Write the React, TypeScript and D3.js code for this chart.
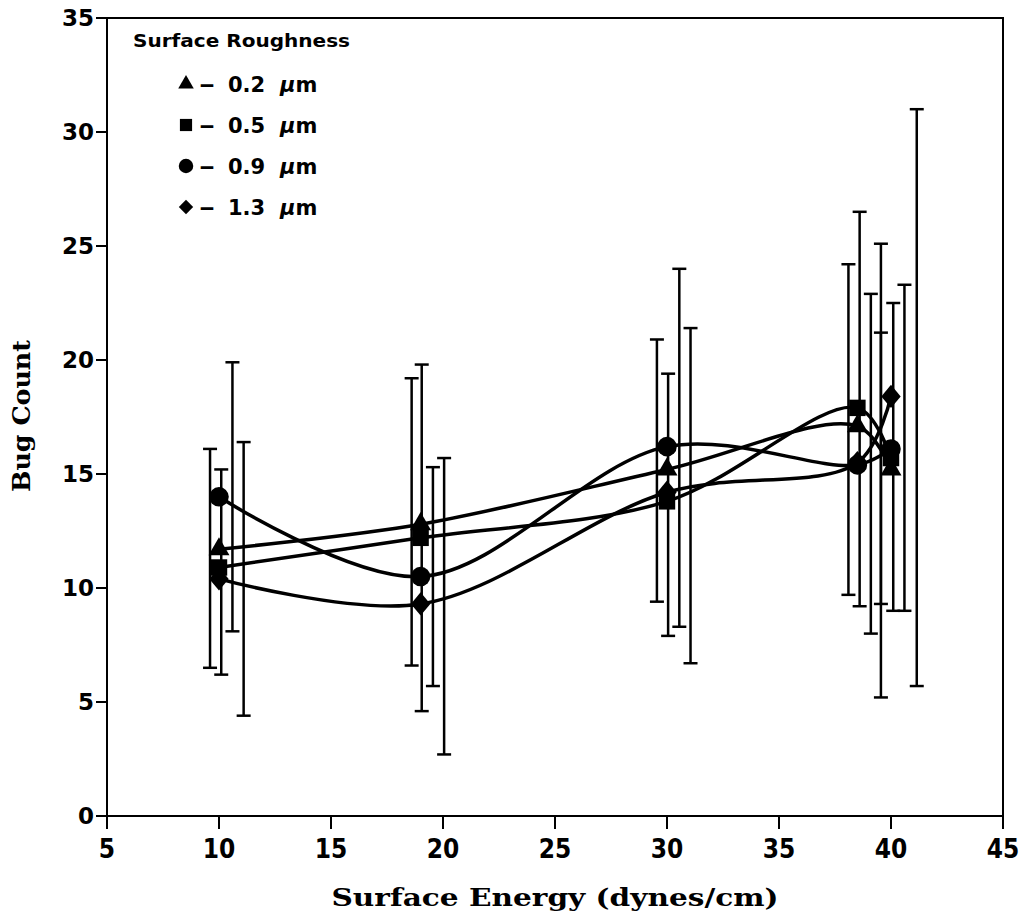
import React from "react";
import * as d3 from "d3";

// values
const seriesNames = ["0.2", "0.5", "0.9", "1.3"];
const seriesShapes = ["triangle", "square", "circle", "diamond"];
const energy = [10, 19, 30, 38.5, 40];

const triangleY = [11.7, 12.8, 15.2, 17.1, 15.2];
const squareY = [10.9, 12.2, 13.8, 17.9, 15.7];
const circleY = [14.0, 10.5, 16.2, 15.4, 16.1];
const diamondY = [10.4, 9.3, 14.2, 15.5, 18.4];

// error bars are drawn slightly offset from the points
const errX = [
  [9.6, 18.6, 29.55, 38.1, 39.55],
  [10.1, 19.05, 30.05, 38.6, 40.1],
  [10.6, 19.55, 30.55, 39.1, 40.6],
  [11.1, 20.05, 31.05, 39.55, 41.15],
];
const errHi = [
  [16.1, 19.2, 20.9, 24.2, 21.2],
  [15.2, 19.8, 19.4, 26.5, 22.5],
  [19.9, 15.3, 24.0, 22.9, 23.3],
  [16.4, 15.7, 21.4, 25.1, 31.0],
];
const errLo = [
  [6.5, 6.6, 9.4, 9.7, 9.3],
  [6.2, 4.6, 7.9, 9.2, 9.0],
  [8.1, 5.7, 8.3, 8.0, 9.0],
  [4.4, 2.7, 6.7, 5.2, 5.7],
];

const xTicks = [5, 10, 15, 20, 25, 30, 35, 40, 45];
const yTicks = [0, 5, 10, 15, 20, 25, 30, 35];

const allY = [triangleY, squareY, circleY, diamondY];

const W = 1024;
const H = 918;
const left = 107;
const right = 1003;
const top = 18;
const bottom = 816;

const symbolFor = (shape: string, big: boolean) => {
  const k = big ? 1 : 0.55;
  if (shape === "triangle") return d3.symbol(d3.symbolTriangle, 190 * k)();
  if (shape === "square") return d3.symbol(d3.symbolSquare, 270 * k)();
  if (shape === "circle") return d3.symbol(d3.symbolCircle, 300 * k)();
  return d3.symbol(d3.symbolDiamond2, 240 * k)();
};

export default function App() {
  const x = d3.scaleLinear().domain([5, 45]).range([left, right]);
  const y = d3.scaleLinear().domain([0, 35]).range([bottom, top]);

  // smooth curve through the means
  const line = d3
    .line<number>()
    .x((_, i) => x(energy[i]))
    .y((d) => y(d))
    .curve(d3.curveCatmullRom.alpha(0.5));

  const tickFont = "DejaVu Sans, sans-serif";
  const narrowFont = "'Liberation Sans Narrow', 'DejaVu Sans Condensed', 'Liberation Sans', sans-serif";
  const titleFont = "'DejaVu Serif', 'Liberation Serif', serif";

  return (
    <svg width={W} height={H} style={{ position: "absolute", left: 0, top: 0, background: "#fff" }}>
      {/* frame */}
      <rect x={left} y={top} width={right - left} height={bottom - top} fill="none" stroke="#000" strokeWidth={2} />

      {/* y ticks */}
      {yTicks.map((t) => (
        <g key={"y" + t}>
          <line x1={left - 11} x2={left} y1={y(t)} y2={y(t)} stroke="#000" strokeWidth={2} />
          <text x={left - 13} y={y(t)} dy="0.36em" textAnchor="end" fontFamily={tickFont} fontWeight="bold" fontSize={23}>
            {t}
          </text>
        </g>
      ))}

      {/* x ticks */}
      {xTicks.map((t) => (
        <g key={"x" + t}>
          <line x1={x(t)} x2={x(t)} y1={bottom} y2={bottom + 13} stroke="#000" strokeWidth={2} />
          <text x={x(t)} y={bottom + 42} textAnchor="middle" fontFamily={narrowFont} fontWeight="bold" fontSize={26}>
            {t}
          </text>
        </g>
      ))}

      <text x={555} y={906} textAnchor="middle" fontFamily={titleFont} fontWeight="bold" fontSize={24} textLength={447} lengthAdjust="spacingAndGlyphs">
        Surface Energy (dynes/cm)
      </text>
      <text transform={`translate(30, 416) rotate(-90)`} textAnchor="middle" fontFamily={titleFont} fontWeight="bold" fontSize={24} textLength={152} lengthAdjust="spacingAndGlyphs">
        Bug Count
      </text>

      {/* error bars */}
      {errX.map((row, s) =>
        row.map((ex, i) => (
          <g key={`e${s}-${i}`} stroke="#000" strokeWidth={2.5}>
            <line x1={x(ex)} x2={x(ex)} y1={y(errLo[s][i])} y2={y(errHi[s][i])} />
            <line x1={x(ex) - 7} x2={x(ex) + 7} y1={y(errLo[s][i])} y2={y(errLo[s][i])} />
            <line x1={x(ex) - 7} x2={x(ex) + 7} y1={y(errHi[s][i])} y2={y(errHi[s][i])} />
          </g>
        ))
      )}

      {/* curves */}
      {allY.map((vals, s) => (
        <path key={"c" + s} d={line(vals) || ""} fill="none" stroke="#000" strokeWidth={3.5} />
      ))}

      {/* markers */}
      {allY.map((vals, s) =>
        vals.map((v, i) => (
          <path
            key={`m${s}-${i}`}
            d={symbolFor(seriesShapes[s], true) || ""}
            transform={`translate(${x(energy[i])},${y(v)})${seriesShapes[s] === "diamond" ? " scale(1,1.2)" : ""}`}
            fill="#000"
          />
        ))
      )}

      {/* legend */}
      <text x={133} y={47} fontFamily={tickFont} fontWeight="bold" fontSize={18} textLength={217} lengthAdjust="spacingAndGlyphs">
        Surface Roughness
      </text>
      {seriesNames.map((n, i) => (
        <g key={"l" + n} transform={`translate(186, ${84 + i * 41})`} fontFamily={tickFont} fontWeight="bold" fontSize={21}>
          <path d={symbolFor(seriesShapes[i], false) || ""} fill="#000" />
          <text x={13} y={0} dy="0.36em" textLength={16} lengthAdjust="spacingAndGlyphs">{"\u2013"}</text>
          <text x={42} y={0} dy="0.36em">{n}</text>
          <text x={94} y={0} dy="0.36em">
            <tspan fontStyle="italic">μ</tspan>m
          </text>
        </g>
      ))}
    </svg>
  );
}
